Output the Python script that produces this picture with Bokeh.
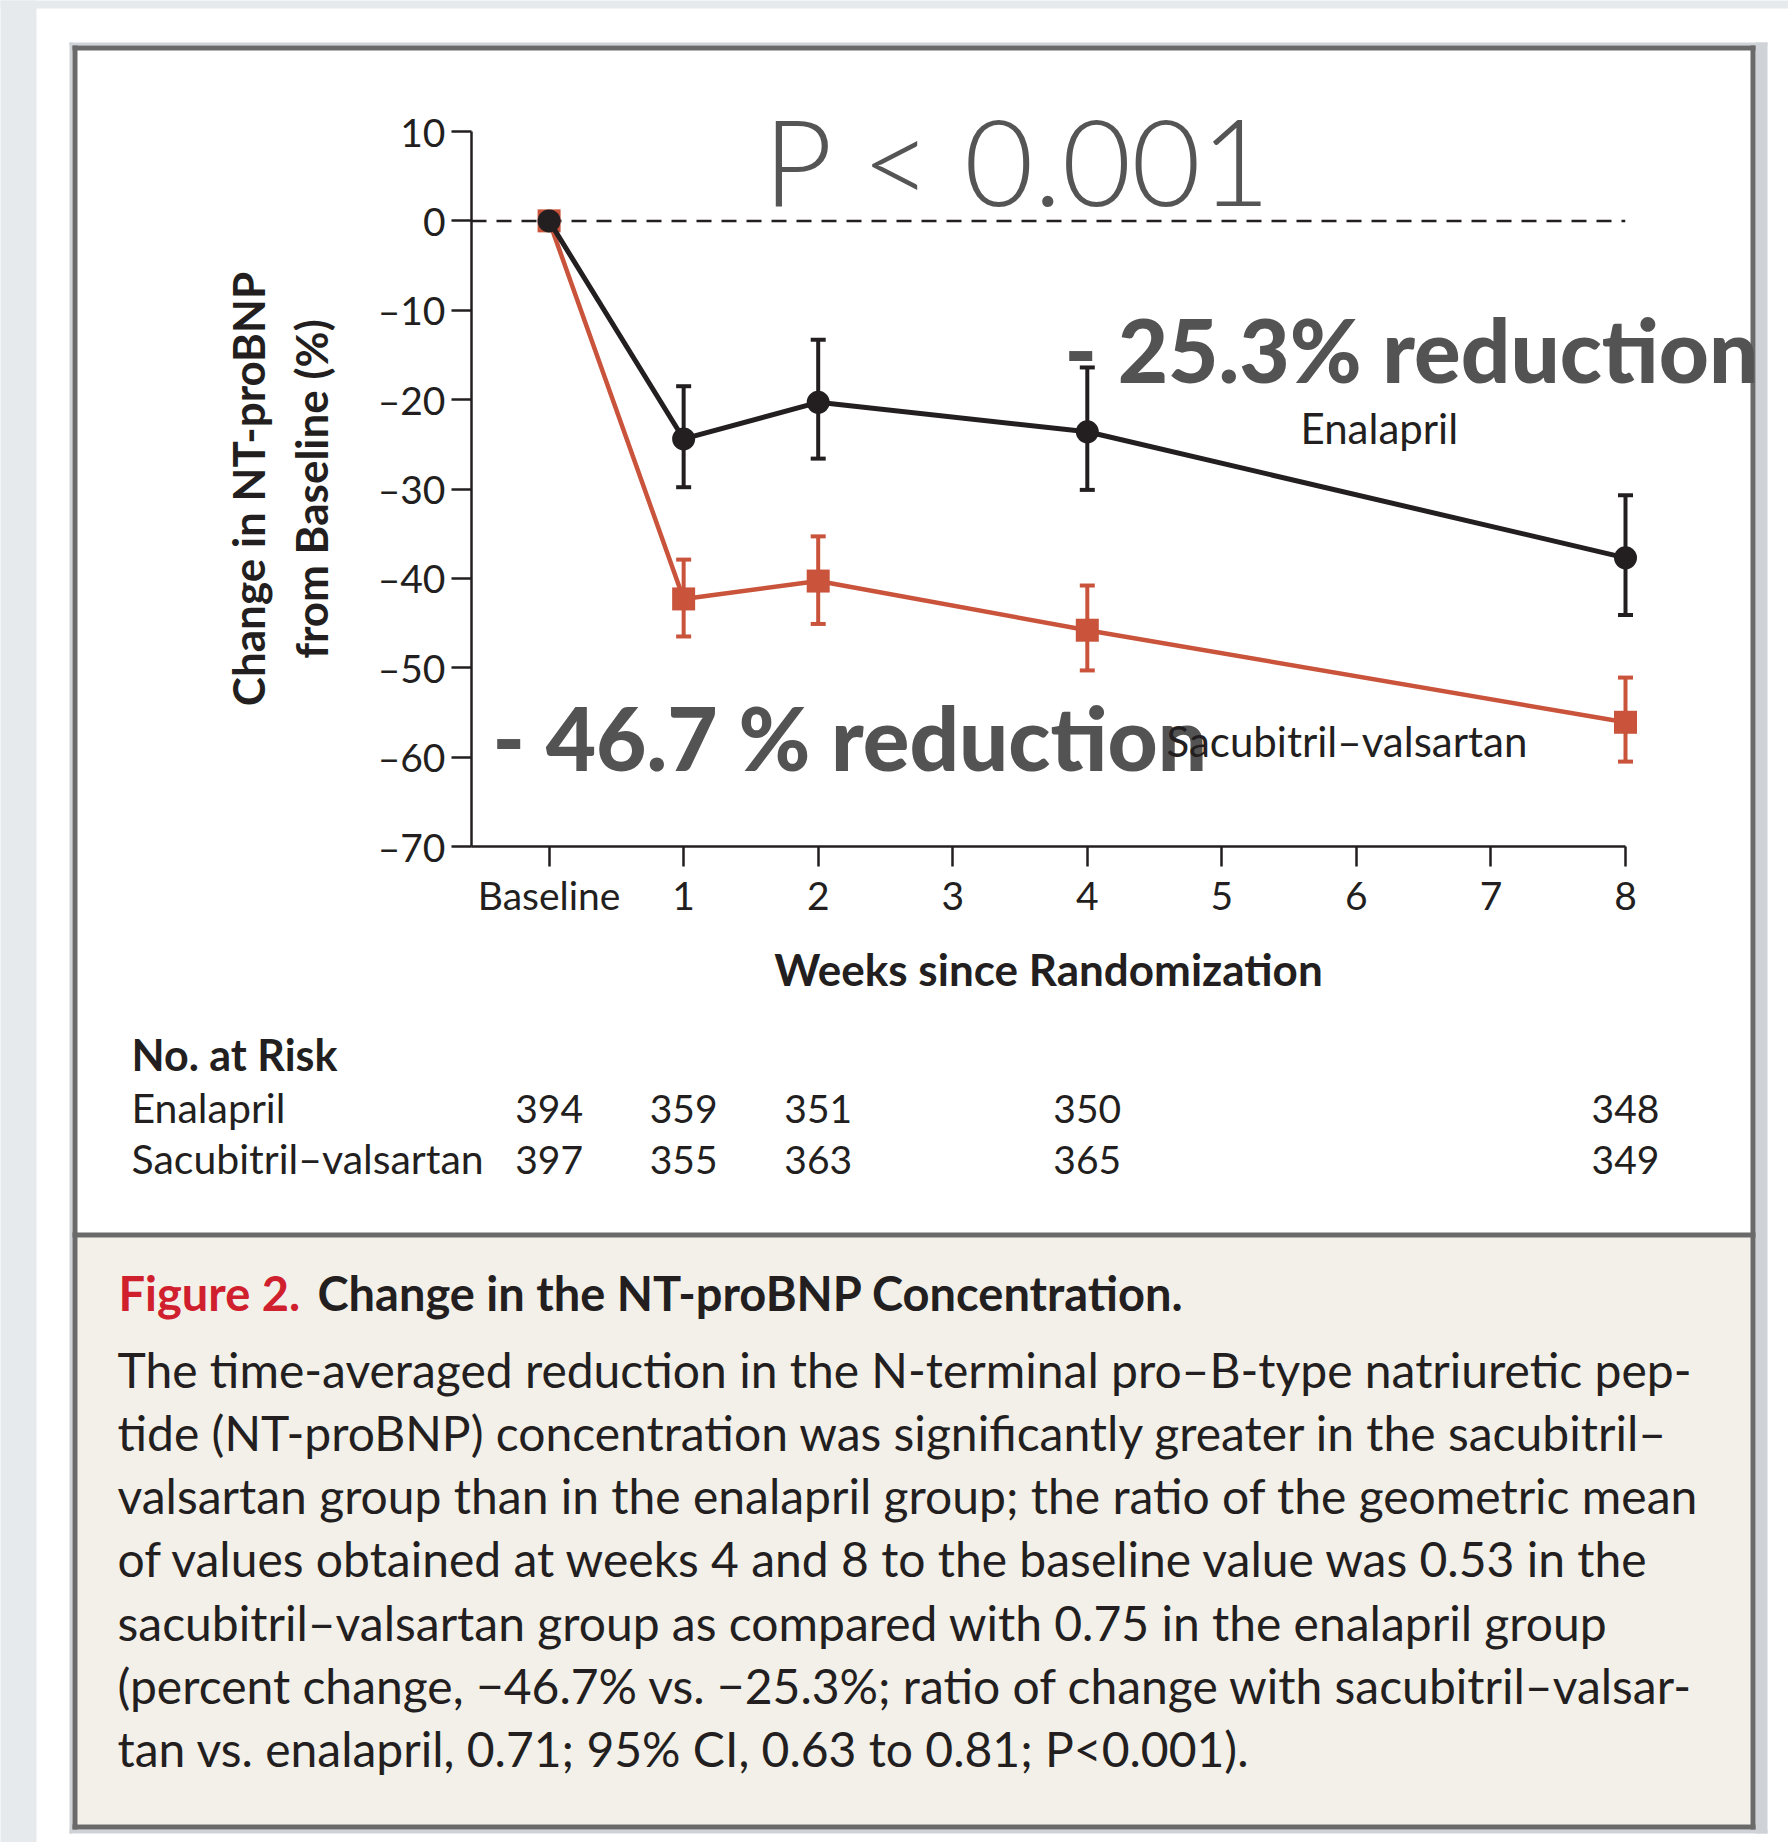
from bokeh.plotting import figure
from bokeh.models import Range1d, FixedTicker
from bokeh.core.properties import value
from bokeh.embed import file_html
from bokeh.resources import INLINE

# ---- data -------------------------------------------------------------
weeks = [0, 1, 2, 4, 8]

enalapril_change = [0.0, -24.4, -20.3, -23.6, -37.7]
enalapril_upper = [0.0, -18.5, -13.3, -16.4, -30.7]
enalapril_lower = [0.0, -29.8, -26.6, -30.1, -44.1]

sacval_change = [0.0, -42.3, -40.3, -45.8, -56.1]
sacval_upper = [0.0, -37.9, -35.3, -40.8, -51.1]
sacval_lower = [0.0, -46.5, -45.1, -50.3, -60.5]

x_ticks = [0, 1, 2, 3, 4, 5, 6, 7, 8]
x_tick_names = {0: "Baseline"}
y_ticks = [10, 0, -10, -20, -30, -40, -50, -60, -70]

risk_weeks = [0, 1, 2, 4, 8]
risk_enalapril = [394, 359, 351, 350, 348]
risk_sacval = [397, 355, 363, 365, 349]

series_names = ["Enalapril", "Sacubitril\u2013valsartan"]
p_value_text = "P < 0.001"
enalapril_reduction = "- 25.3% reduction"
sacval_reduction = "- 46.7 % reduction"

caption_title = ["Figure 2.", "Change in the NT-proBNP Concentration."]
caption_lines = [
    "The time-averaged reduction in the N-terminal pro\u2013B-type natriuretic pep-",
    "tide (NT-proBNP) concentration was significantly greater in the sacubitril\u2013",
    "valsartan group than in the enalapril group; the ratio of the geometric mean",
    "of values obtained at weeks 4 and 8 to the baseline value was 0.53 in the",
    "sacubitril\u2013valsartan group as compared with 0.75 in the enalapril group",
    "(percent change, \u221246.7% vs. \u221225.3%; ratio of change with sacubitril\u2013valsar-",
    "tan vs. enalapril, 0.71; 95% CI, 0.63 to 0.81; P<0.001).",
]

# ---- page geometry (pixels) -------------------------------------------
W, H = 1788, 1842
FRAME_L, FRAME_R, FRAME_T, FRAME_B = 471, 1625, 131, 846
X_START, X_END = -0.5767, 8.0
Y_START, Y_END = -70.0, 10.0
PX_PER_WEEK = (FRAME_R - FRAME_L) / (X_END - X_START)
PX_PER_UNIT = (FRAME_B - FRAME_T) / (Y_END - Y_START)
BASELINE_SHIFT = 0.38  # text is drawn this many ems below the requested baseline


def dx(px):
    return X_START + (px - FRAME_L) / PX_PER_WEEK


def dy(py):
    return Y_END - (py - FRAME_T) / PX_PER_UNIT


INK = "#231f20"
RED = "#c9533b"
BIG_GREY = "#535353"
FONT = "Lato"

p = figure(width=W, height=H, output_backend="svg", toolbar_location=None,
           x_range=Range1d(X_START, X_END), y_range=Range1d(Y_START, Y_END),
           min_border_left=FRAME_L, min_border_right=W - FRAME_R,
           min_border_top=FRAME_T, min_border_bottom=H - FRAME_B)
p.background_fill_color = "white"
p.border_fill_color = "white"
p.outline_line_color = None
p.xgrid.visible = False
p.ygrid.visible = False

# ---- page furniture: grey page edge, framed panel, caption box ---------
def box(l, r, t, b, color):
    p.quad(left=[dx(l)], right=[dx(r)], top=[dy(t)], bottom=[dy(b)],
           fill_color=color, line_color=None, level="guide")


box(0, 36, 0, H, "#e7eaed")
box(0, W, 0, 8, "#e7eaed")
box(69, 72, 42, 1833, "#cfd3d8")
box(69, 1767, 42, 45, "#cfd3d8")
box(1755, 1767, 42, 1833, "#cfd3d8")
box(69, 1767, 1829, 1833, "#cfd3d8")
box(77, 1750, 1237, 1824, "#f3f0ea")
box(72, 77, 45, 1829, "#6a6a6a")
box(72, 1755, 45, 50, "#6a6a6a")
box(1750, 1755, 45, 1829, "#6a6a6a")
box(72, 1755, 1824, 1829, "#6a6a6a")
box(72, 1755, 1232, 1237, "#6a6a6a")

# ---- axes -------------------------------------------------------------
xa = p.xaxis[0]
xa.ticker = FixedTicker(ticks=x_ticks)
xa.major_label_overrides = x_tick_names
ya = p.yaxis[0]
ya.ticker = FixedTicker(ticks=y_ticks)
ya.major_label_overrides = {v: ("\u2013" + str(abs(v)) if v < 0 else str(v)) for v in y_ticks}

for ax in (xa, ya):
    ax.axis_line_color = INK
    ax.axis_line_width = 2.5
    ax.major_tick_line_color = INK
    ax.major_tick_line_width = 2.5
    ax.major_tick_in = 0
    ax.major_tick_out = 20
    ax.minor_tick_line_color = None
    ax.major_label_text_font = FONT
    ax.major_label_text_font_size = "39px"
    ax.major_label_text_color = INK
    ax.axis_label_text_font = FONT
    ax.axis_label_text_font_style = "bold"
    ax.axis_label_text_color = INK

xa.major_label_standoff = 5
xa.axis_label = "Weeks since Randomization"
xa.axis_label_text_font_size = "44px"
xa.axis_label_standoff = 22
ya.major_label_standoff = 6
ya.axis_label = "Change in NT-proBNP\nfrom Baseline (%)"
ya.axis_label_text_font_size = "44px"
ya.axis_label_standoff = 38

# zero reference line
p.segment(x0=[X_START], y0=[0], x1=[weeks[-1]], y1=[0],
          line_color=INK, line_width=2.5, line_dash="15 10")

# ---- series -----------------------------------------------------------
def series(mean, upper, lower, color, marker, width):
    idx = [i for i in range(len(weeks)) if upper[i] != lower[i]]
    xs = [weeks[i] for i in idx]
    up = [upper[i] for i in idx]
    lo = [lower[i] for i in idx]
    p.segment(x0=xs, y0=lo, x1=xs, y1=up, line_color=color, line_width=4, level="overlay")
    p.scatter(xs, up, marker="dash", size=15, line_color=color, line_width=4, level="overlay")
    p.scatter(xs, lo, marker="dash", size=15, line_color=color, line_width=4, level="overlay")
    p.line(weeks, mean, line_color=color, line_width=width, level="overlay")
    p.scatter(weeks, mean, marker=marker, size=23, fill_color=color, line_color=None,
              level="overlay")


series(sacval_change, sacval_upper, sacval_lower, RED, "square", 4.5)
series(enalapril_change, enalapril_upper, enalapril_lower, INK, "circle", 5)

# ---- text -------------------------------------------------------------
def txt(xs, baseline_px, texts, size, color=INK, style="normal", align="left", font=FONT):
    y = dy(baseline_px - BASELINE_SHIFT * size)
    p.text(x=xs, y=[y] * len(texts), text=texts, text_font=value(font),
           text_font_size=value(f"{size}px"), text_font_style=style, text_color=color,
           text_align=align, text_baseline="alphabetic", level="overlay")


txt([dx(1018)], 205, [p_value_text], 120, "#555555", align="center",
    font="Lato Light, Lato")
txt([dx(1064)], 382, [enalapril_reduction], 87, BIG_GREY, "bold",
    font="Lato Black, Lato Heavy, Lato")
txt([dx(492)], 770, [sacval_reduction], 87, BIG_GREY, "bold",
    font="Lato Black, Lato Heavy, Lato")
txt([dx(1300)], 443.5, [series_names[0]], 42)
txt([dx(1166)], 756, [series_names[1]], 42)

# number at risk
txt([dx(131)], 1070, ["No. at Risk"], 43, style="bold")
for name, counts, base in ((series_names[0], risk_enalapril, 1123),
                           (series_names[1], risk_sacval, 1174)):
    txt([dx(131)], base, [name], 41)
    txt(risk_weeks, base, [str(c) for c in counts], 39, align="center")

# caption
txt([dx(118)], 1310, [caption_title[0]], 47, "#d0202e", "bold")
txt([dx(317)], 1310, [caption_title[1]], 47, INK, "bold")
for i, line in enumerate(caption_lines):
    txt([dx(117)], 1387 + 63.2 * i, [line], 48)

open("out.html", "w").write(file_html(p, INLINE))
